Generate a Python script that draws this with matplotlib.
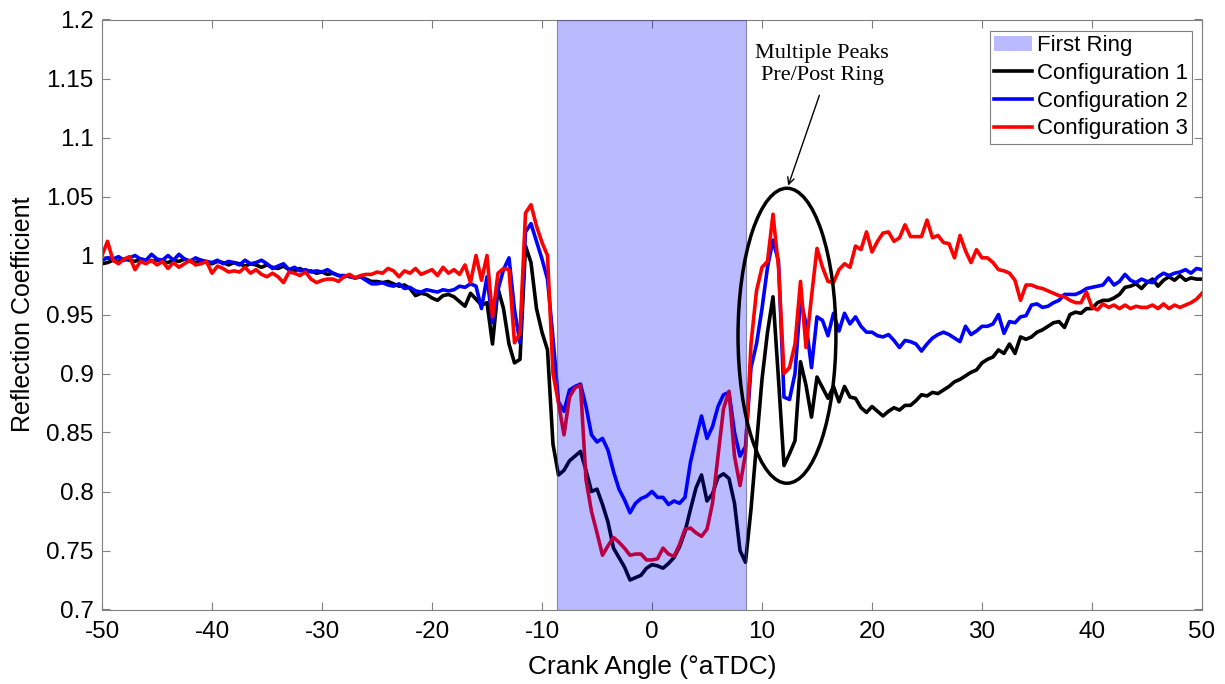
import numpy as np
import matplotlib.pyplot as plt
from matplotlib.patches import Ellipse, Patch
from matplotlib.lines import Line2D
from matplotlib.ticker import FuncFormatter, MultipleLocator

plt.rcParams['font.family'] = ['Liberation Sans', 'DejaVu Sans']
plt.rcParams['axes.unicode_minus'] = False

### Crank angle grid and reflection coefficients per configuration ###
crank_angle = np.arange(-50, 50.001, 0.5)  # [deg aTDC]

config1 = [
    0.993, 0.994, 0.996, 0.995, 0.997, 0.996, 0.995, 0.997, 0.996, 0.995,
    0.996, 0.995, 0.994, 0.996, 0.995, 0.997, 0.995, 0.994, 0.996, 0.994,
    0.993, 0.995, 0.994, 0.992, 0.994, 0.993, 0.991, 0.993, 0.992, 0.990,
    0.992, 0.990, 0.989, 0.991, 0.988, 0.987, 0.989, 0.986, 0.987, 0.985,
    0.986, 0.984, 0.985, 0.983, 0.982, 0.983, 0.981, 0.982, 0.980, 0.978,
    0.978, 0.977, 0.978, 0.976, 0.974, 0.975, 0.972, 0.966, 0.968, 0.967,
    0.964, 0.962, 0.966, 0.967, 0.965, 0.961, 0.957, 0.968, 0.963, 0.958,
    0.960, 0.925, 0.972, 0.955, 0.925, 0.909, 0.912, 1.008, 0.994, 0.955,
    0.935, 0.920, 0.840, 0.814, 0.818, 0.826, 0.830, 0.834, 0.818, 0.800,
    0.802, 0.789, 0.774, 0.752, 0.744, 0.736, 0.725, 0.727, 0.729, 0.735,
    0.738, 0.737, 0.735, 0.739, 0.744, 0.753, 0.766, 0.785, 0.803, 0.814,
    0.792, 0.798, 0.812, 0.815, 0.811, 0.790, 0.750, 0.740, 0.785, 0.840,
    0.895, 0.935, 0.965, 0.895, 0.822, 0.832, 0.843, 0.910, 0.890, 0.863,
    0.897, 0.888, 0.879, 0.889, 0.876, 0.889, 0.880, 0.879, 0.871, 0.867,
    0.872, 0.868, 0.864, 0.868, 0.871, 0.869, 0.873, 0.873, 0.877, 0.882,
    0.881, 0.884, 0.883, 0.886, 0.889, 0.893, 0.895, 0.898, 0.901, 0.903,
    0.909, 0.912, 0.914, 0.920, 0.917, 0.925, 0.917, 0.931, 0.929, 0.931,
    0.935, 0.937, 0.940, 0.943, 0.944, 0.939, 0.950, 0.952, 0.951, 0.955,
    0.955, 0.960, 0.962, 0.962, 0.964, 0.967, 0.973, 0.974, 0.976, 0.972,
    0.977, 0.980, 0.974, 0.979, 0.982, 0.979, 0.983, 0.979, 0.981, 0.980,
    0.980,
]

config2 = [
    0.996, 0.998, 0.997, 0.999, 0.996, 0.998, 1.000, 0.997, 0.996, 1.001,
    0.997, 0.996, 1.000, 0.996, 1.001, 0.997, 0.995, 0.998, 0.996, 0.995,
    0.994, 0.996, 0.993, 0.995, 0.994, 0.992, 0.996, 0.993, 0.994, 0.996,
    0.993, 0.989, 0.991, 0.993, 0.988, 0.990, 0.987, 0.988, 0.986, 0.987,
    0.986, 0.988, 0.985, 0.983, 0.983, 0.982, 0.981, 0.982, 0.979, 0.976,
    0.976, 0.977, 0.975, 0.974, 0.976, 0.972, 0.973, 0.970, 0.969, 0.971,
    0.970, 0.969, 0.971, 0.970, 0.971, 0.974, 0.973, 0.976, 0.974, 0.955,
    0.982, 0.943, 0.971, 0.988, 0.998, 0.954, 0.926, 1.020, 1.027, 1.012,
    0.997, 0.980, 0.930, 0.876, 0.868, 0.886, 0.889, 0.891, 0.872, 0.848,
    0.842, 0.845, 0.835, 0.817, 0.802, 0.793, 0.782, 0.790, 0.794, 0.796,
    0.800, 0.795, 0.795, 0.789, 0.792, 0.790, 0.795, 0.825, 0.845, 0.864,
    0.845, 0.855, 0.872, 0.882, 0.884, 0.850, 0.830, 0.838, 0.905, 0.925,
    0.955, 0.990, 1.013, 0.995, 0.880, 0.878, 0.900, 0.963, 0.942, 0.905,
    0.948, 0.945, 0.932, 0.951, 0.936, 0.951, 0.942, 0.948, 0.940, 0.935,
    0.935, 0.932, 0.931, 0.933, 0.928, 0.922, 0.928, 0.927, 0.925, 0.919,
    0.925, 0.930, 0.933, 0.935, 0.933, 0.930, 0.927, 0.940, 0.933, 0.936,
    0.940, 0.940, 0.942, 0.950, 0.934, 0.944, 0.943, 0.948, 0.949, 0.958,
    0.959, 0.956, 0.957, 0.960, 0.962, 0.967, 0.967, 0.967, 0.969, 0.972,
    0.973, 0.974, 0.975, 0.981, 0.975, 0.978, 0.984, 0.979, 0.977, 0.980,
    0.978, 0.977, 0.982, 0.985, 0.983, 0.985, 0.986, 0.988, 0.985, 0.989,
    0.988,
]

config3 = [
    1.000, 1.012, 0.996, 0.993, 0.997, 0.999, 0.988, 0.995, 0.993, 0.996,
    0.992, 0.995, 0.989, 0.994, 0.990, 0.993, 0.996, 0.992, 0.993, 0.995,
    0.985, 0.991, 0.989, 0.986, 0.987, 0.986, 0.990, 0.985, 0.988, 0.984,
    0.982, 0.985, 0.982, 0.977, 0.986, 0.985, 0.983, 0.986, 0.980, 0.977,
    0.979, 0.980, 0.980, 0.978, 0.982, 0.984, 0.981, 0.983, 0.984, 0.984,
    0.986, 0.985, 0.989, 0.987, 0.982, 0.987, 0.985, 0.989, 0.984, 0.986,
    0.988, 0.983, 0.990, 0.985, 0.988, 0.984, 0.992, 0.977, 1.000, 0.979,
    1.000, 0.948, 0.985, 0.989, 0.988, 0.926, 0.934, 1.036, 1.043, 1.025,
    1.011, 1.000, 0.900, 0.875, 0.848, 0.880, 0.888, 0.890, 0.810, 0.783,
    0.765, 0.746, 0.754, 0.761, 0.757, 0.752, 0.746, 0.747, 0.747, 0.742,
    0.742, 0.743, 0.752, 0.747, 0.745, 0.755, 0.768, 0.769, 0.765, 0.762,
    0.768, 0.790, 0.830, 0.870, 0.885, 0.830, 0.805, 0.832, 0.925, 0.970,
    0.990, 0.995, 1.035, 0.990, 0.900, 0.905, 0.925, 0.978, 0.922, 0.965,
    1.006, 0.990, 0.978, 0.977, 0.988, 0.993, 0.990, 1.008, 1.005, 1.020,
    1.003, 1.012, 1.019, 1.020, 1.012, 1.015, 1.026, 1.016, 1.016, 1.016,
    1.030, 1.015, 1.017, 1.011, 1.010, 0.998, 1.017, 1.004, 0.994, 1.005,
    0.998, 0.998, 0.994, 0.988, 0.987, 0.985, 0.979, 0.962, 0.975, 0.975,
    0.973, 0.972, 0.970, 0.968, 0.966, 0.965, 0.962, 0.960, 0.960, 0.969,
    0.956, 0.954, 0.959, 0.956, 0.958, 0.955, 0.958, 0.955, 0.957, 0.956,
    0.956, 0.958, 0.955, 0.959, 0.955, 0.958, 0.956, 0.958, 0.960, 0.963,
    0.968,
]

ring_start, ring_end = -8.6, 8.5  # first ring passage [deg aTDC]

fig = plt.figure(figsize=(12.25, 6.84), dpi=100)
ax = fig.add_axes([102/1225, 1 - 609.5/684, 1100/1225, 590/684])

ax.plot(crank_angle, config1, color='k', lw=2.6, zorder=2)
ax.plot(crank_angle, config2, color='#0000ff', lw=2.6, zorder=2)
ax.plot(crank_angle, config3, color='#ff0000', lw=2.6, zorder=2)

# ring band drawn over the traces, as in the original figure
ax.axvspan(ring_start, ring_end, facecolor=(0, 0, 1, 0.27),
           edgecolor=(0.3, 0.3, 0.5, 0.6), lw=0.8, zorder=3)

### Annotation of the peaks after the ring ###
ax.add_patch(Ellipse((12.27, 0.932), 8.9, 0.25, fill=False, ec='k', lw=2.5, zorder=4))
ax.annotate('', xy=(12.3, 1.057), xytext=(15.3, 1.138),
            arrowprops=dict(arrowstyle='->', lw=1.0, color='k', mutation_scale=12))
ax.text(15.45, 1.162, 'Multiple Peaks\nPre/Post Ring', ha='center', va='center',
        family=['Liberation Serif', 'DejaVu Serif'], fontsize=16, linespacing=1.25)

ax.set_xlim(-50, 50)
ax.set_ylim(0.7, 1.2)
ax.xaxis.set_major_locator(MultipleLocator(10))
ax.yaxis.set_major_locator(MultipleLocator(0.05))
ax.yaxis.set_major_formatter(FuncFormatter(lambda v, p: '%g' % round(v, 2)))
ax.tick_params(direction='in', top=True, right=True, length=6, width=0.8,
               color='#808080', labelsize=17.5)
ax.tick_params(axis='y', pad=6)
ax.tick_params(axis='x', pad=8)
for s in ax.spines.values():
    s.set_color('#808080')
    s.set_linewidth(0.8)

ax.set_xlabel('Crank Angle (°aTDC)', fontsize=19)
ax.set_ylabel('Reflection Coefficient', fontsize=18, labelpad=8)
ax.xaxis.set_label_coords(0.5, -0.077)

handles = [Patch(facecolor=(0, 0, 1, 0.27), edgecolor='none', label='First Ring'),
           Line2D([], [], color='k', lw=2.6, label='Configuration 1'),
           Line2D([], [], color='#0000ff', lw=2.6, label='Configuration 2'),
           Line2D([], [], color='#ff0000', lw=2.6, label='Configuration 3')]
leg = ax.legend(handles=handles, loc='upper right', bbox_to_anchor=(0.9909, 0.9805),
                borderaxespad=0, fontsize=16, handlelength=1.7, handletextpad=0.2,
                labelspacing=0.3, borderpad=0.2, fancybox=False, framealpha=1)
leg.get_frame().set_edgecolor('#808080')
leg.get_frame().set_linewidth(0.8)

fig.savefig('out.png', dpi=100)
